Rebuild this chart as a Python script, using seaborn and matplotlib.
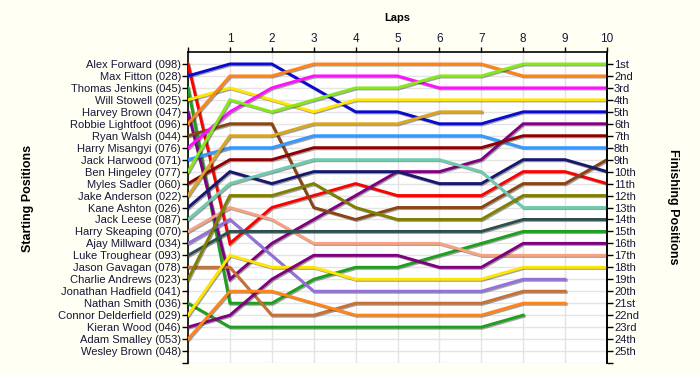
import matplotlib
matplotlib.use("Agg")
import matplotlib.pyplot as plt
import matplotlib.patheffects as pe
import numpy as np
import pandas as pd
import seaborn as sns

# ---------------- data ----------------
laps = list(range(0, 11))
drivers = [
    "Alex Forward (098)", "Max Fitton (028)", "Thomas Jenkins (045)", "Will Stowell (025)",
    "Harvey Brown (047)", "Robbie Lightfoot (096)", "Ryan Walsh (044)", "Harry Misangyi (076)",
    "Jack Harwood (071)", "Ben Hingeley (077)", "Myles Sadler (060)", "Jake Anderson (022)",
    "Kane Ashton (026)", "Jack Leese (087)", "Harry Skeaping (070)", "Ajay Millward (034)",
    "Luke Troughear (093)", "Jason Gavagan (078)", "Charlie Andrews (023)", "Jonathan Hadfield (041)",
    "Nathan Smith (036)", "Connor Delderfield (029)", "Kieran Wood (046)", "Adam Smalley (053)",
    "Wesley Brown (048)",
]
colors = [
    "#ff0000", "#0a0ad0", "#1ea01e", "#ffe600", "#800080", "#ff8418", "#8b4513", "#ff10ff",
    "#3399ff", "#86e81c", "#900000", "#daa520", "#181870", "#6fcbb0", "#f6a283", "#9370db",
    "#2f4f4f", "#c87137", "#808000", "#0a0ad0", "#1ea01e", "#ffe600", "#800080", "#ff8418",
    "#8b4513",
]
N = None
positions = [
    [1, 16, 13, 12, 11, 12, 12, 12, 10, 10, 11],
    [2, 1, 1, 3, 5, 5, 6, 6, 5, 5, 5],
    [3, 21, 21, 19, 18, 18, 17, 16, 15, 15, 15],
    [4, 3, 4, 5, 4, 4, 4, 4, 4, 4, 4],
    [5, 19, 16, 14, 12, 10, 10, 9, 6, 6, 6],
    [6, 2, 2, 1, 1, 1, 1, 1, 2, 2, 2],
    [7, 6, 6, 13, 14, 13, 13, 13, 11, 11, 9],
    [8, 5, 3, 2, 2, 2, 3, 3, 3, 3, 3],
    [9, 8, 8, 7, 7, 7, 7, 7, 8, 8, 8],
    [10, 4, 5, 4, 3, 3, 2, 2, 1, 1, 1],
    [11, 9, 9, 8, 8, 8, 8, 8, 7, 7, 7],
    [12, 7, 7, 6, 6, 6, 5, 5, N, N, N],
    [13, 10, 11, 10, 10, 10, 11, 11, 9, 9, 10],
    [14, 11, 10, 9, 9, 9, 9, 10, 13, 13, 13],
    [15, 13, 14, 16, 16, 16, 16, 17, 17, 17, 17],
    [16, 14, 17, 20, 20, 20, 20, 20, 19, 19, N],
    [17, 15, 15, 15, 15, 15, 15, 15, 14, 14, 14],
    [18, 18, 22, 22, 21, 21, 21, 21, 20, 20, N],
    [19, 12, 12, 11, 13, 14, 14, 14, 12, 12, 12],
    [N, N, N, N, N, N, N, N, N, N, N],
    [21, 23, 23, 23, 23, 23, 23, 23, 22, N, N],
    [22, 17, 18, 18, 19, 19, 19, 19, 18, 18, 18],
    [23, 22, 19, 17, 17, 17, 18, 18, 16, 16, 16],
    [24, 20, 20, 21, 22, 22, 22, 22, 21, 21, N],
    [N, N, N, N, N, N, N, N, N, N, N],
]
finish_labels = ["1st", "2nd", "3rd", "4th", "5th", "6th", "7th", "8th", "9th", "10th",
                 "11th", "12th", "13th", "14th", "15th", "16th", "17th", "18th", "19th",
                 "20th", "21st", "22nd", "23rd", "24th", "25th"]

rows = []
for d, pos in zip(drivers, positions):
    for lap, p in zip(laps, pos):
        if p is not None:
            rows.append({"driver": d, "lap": lap, "position": p})
df = pd.DataFrame(rows)
palette = {d: c for d, c in zip(drivers, colors)}
hue_order = [d for d, pos in zip(drivers, positions) if any(p is not None for p in pos)]

# ---------------- figure ----------------
plt.rcParams["font.family"] = ["Liberation Sans", "DejaVu Sans"]
bg = "#fffff4"
txt = "#16163a"
fig = plt.figure(figsize=(7, 3.75), dpi=100, facecolor=bg)
ax = fig.add_axes([188 / 700, 12 / 375, (607 - 188) / 700, (363 - 52) / 375])
ax.set_facecolor("white")

sns.lineplot(data=df, x="lap", y="position", hue="driver", hue_order=hue_order,
             palette=palette, estimator=None, sort=False, legend=False,
             linewidth=2.1, ax=ax, zorder=3)
for ln in ax.lines:
    ln.set_path_effects([pe.SimpleLineShadow(offset=(0.8, -0.8), shadow_color="#303030", alpha=0.45),
                         pe.Normal()])
    ln.set_solid_joinstyle("miter")

ax.set_xlim(0, 10)
ax.set_ylim(26, 0)
ax.set_xlabel("")
ax.set_ylabel("")

# top axis
ax.xaxis.tick_top()
ax.set_xticks(laps)
ax.set_xticklabels([""] + [str(l) for l in laps[1:]], fontsize=8.5, color=txt)
ax.tick_params(axis="x", direction="out", length=3.5, width=1, color="black", pad=1.5)

# left axis
ax.set_yticks(list(range(1, 27)))
ax.set_yticklabels(drivers + [""], fontsize=8, color=txt)
ax.tick_params(axis="y", direction="out", length=4, width=1, color="black", pad=1)

# grid
ax.grid(True, color="#e4e4e4", linewidth=1)
ax.set_axisbelow(True)

for s in ["left", "right", "top"]:
    ax.spines[s].set_color("black")
    ax.spines[s].set_linewidth(1.2)
ax.spines["bottom"].set_visible(False)

# right axis
ax2 = ax.twinx()
ax2.set_ylim(26, 0)
ax2.set_yticks(list(range(1, 27)))
ax2.set_yticklabels(finish_labels + [""], fontsize=8, color=txt)
ax2.tick_params(axis="y", direction="out", length=4, width=1, color="black", pad=1)
ax2.spines["bottom"].set_visible(False)
ax2.spines["top"].set_visible(False)
ax2.spines["left"].set_visible(False)
ax2.spines["right"].set_linewidth(1.2)

fig.text(397 / 700, 1 - 18 / 375, "Laps", ha="center", va="center",
         fontsize=8, fontweight="bold", color="black")
fig.text(28 / 700, 1 - 198 / 375, "Starting Positions", rotation=90, ha="center", va="center",
         fontsize=9, fontweight="bold", color="black")
fig.text(673 / 700, 1 - 207 / 375, "Finishing Positions", rotation=270, ha="center", va="center",
         fontsize=9, fontweight="bold", color="black")

fig.savefig("out.png", dpi=100, facecolor=bg)
